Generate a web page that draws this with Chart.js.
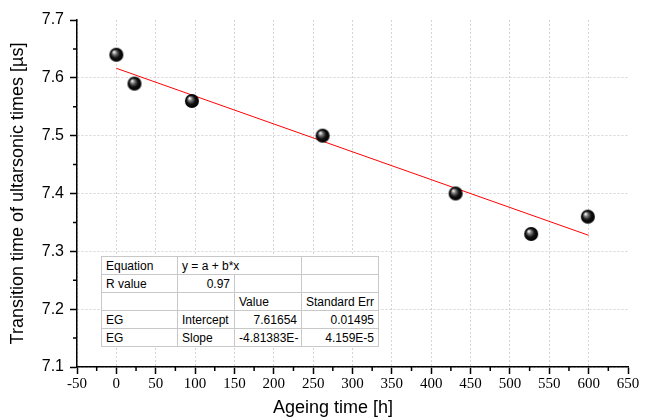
<!DOCTYPE html>
<html>
<head>
<meta charset="utf-8">
<script src="https://cdn.jsdelivr.net/npm/chart.js@4/dist/chart.umd.min.js"></script>
<style>
  html, body { margin: 0; padding: 0; background: #fff; }
  #wrap { position: relative; width: 654px; height: 419px; }
  #chart { position: absolute; left: 0; top: 0; }
  #fit {
    position: absolute; left: 101px; top: 256px; width: 277px;
    table-layout: fixed; border-collapse: collapse; background: #fff;
    font-family: "Liberation Sans", Arial, sans-serif; font-size: 12px; color: #000;
    border: 1px solid #555;
  }
  #fit td { border: 1px solid #c8c8c8; height: 17px; padding: 0 4px; white-space: nowrap; overflow: visible; }
  #fit td.r { text-align: right; }
</style>
</head>
<body>
<div id="wrap">
  <canvas id="chart" width="654" height="419"></canvas>
  <table id="fit">
    <colgroup><col style="width:76px"><col style="width:57px"><col style="width:67px"><col style="width:77px"></colgroup>
    <tr><td>Equation</td><td colspan="2">y = a + b*x</td><td></td></tr>
    <tr><td>R value</td><td class="r">0.97</td><td></td><td></td></tr>
    <tr><td></td><td></td><td>Value</td><td>Standard Err</td></tr>
    <tr><td>EG</td><td>Intercept</td><td class="r">7.61654</td><td class="r">0.01495</td></tr>
    <tr><td>EG</td><td>Slope</td><td class="r">-4.81383E-</td><td class="r">4.159E-5</td></tr>
  </table>
</div>
<script>
// measured points (ageing time h, transition time µs)
const ageHours = [0, 23, 96, 262, 431, 527, 599];
const transTime = [7.64, 7.59, 7.56, 7.50, 7.40, 7.33, 7.36];

const fitX = [0, 600];
const fitY = [7.6165, 7.3277];

const xTicks = [-50, 0, 50, 100, 150, 200, 250, 300, 350, 400, 450, 500, 550, 600, 650];
const yTicks = [7.1, 7.2, 7.3, 7.4, 7.5, 7.6, 7.7];

const xTitle = "Ageing time [h]";
const yTitle = "Transition time of ultarsonic times [µs]";

function makeBall(r) {
  const c = document.createElement("canvas");
  c.width = c.height = r * 2 + 2;
  const g = c.getContext("2d");
  const cx = r + 1, cy = r + 1;
  const grad = g.createRadialGradient(cx - r * 0.35, cy - r * 0.4, 0.5, cx, cy, r);
  grad.addColorStop(0, "#f4f4f4");
  grad.addColorStop(0.25, "#777");
  grad.addColorStop(0.6, "#111");
  grad.addColorStop(1, "#000");
  g.fillStyle = grad;
  g.beginPath();
  g.arc(cx, cy, r, 0, Math.PI * 2);
  g.fill();
  return c;
}

// small minor ticks + axis titles
const extras = {
  id: "extras",
  afterDraw(chart) {
    const ctx = chart.ctx;
    const xs = chart.scales.x, ys = chart.scales.y;
    ctx.save();
    ctx.strokeStyle = "#000";
    ctx.lineWidth = 1.5;
    ctx.beginPath();
    for (let i = 0; i < xTicks.length - 1; i++) {
      const px = xs.getPixelForValue((xTicks[i] + xTicks[i + 1]) / 2);
      ctx.moveTo(px, ys.bottom);
      ctx.lineTo(px, ys.bottom + 4);
    }
    for (let i = 0; i < yTicks.length - 1; i++) {
      const py = ys.getPixelForValue((yTicks[i] + yTicks[i + 1]) / 2);
      ctx.moveTo(xs.left, py);
      ctx.lineTo(xs.left - 4, py);
    }
    ctx.stroke();

    ctx.fillStyle = "#000";
    ctx.font = "18px 'Liberation Sans', Arial, sans-serif";
    ctx.textAlign = "center";
    ctx.textBaseline = "middle";
    ctx.fillText(xTitle, 333, 408);
    ctx.translate(18, (ys.top + ys.bottom) / 2);
    ctx.rotate(-Math.PI / 2);
    ctx.fillText(yTitle, 0, 0);
    ctx.restore();
  }
};

const gridCol = (edge) => ctx => (ctx.tick && ctx.tick.value === edge) ? "rgba(0,0,0,0)" : "#d4d4d4";

const canvas = document.getElementById("chart");

new Chart(canvas, {
  type: "scatter",
  data: {
    datasets: [
      {
        label: "data",
        data: ageHours.map((x, i) => ({ x, y: transTime[i] })),
        pointStyle: makeBall(7),
        pointRadius: 7,
        order: 1
      },
      {
        label: "fit",
        data: fitX.map((x, i) => ({ x, y: fitY[i] })),
        showLine: true,
        borderColor: "#ff0000",
        borderWidth: 1,
        pointRadius: 0,
        order: 2
      }
    ]
  },
  options: {
    responsive: false,
    animation: false,
    layout: { padding: { top: 20, right: 26, left: 0, bottom: 0 } },
    plugins: {
      legend: { display: false },
      tooltip: { enabled: false }
    },
    scales: {
      x: {
        type: "linear",
        min: -50,
        max: 650,
        afterBuildTicks: s => { s.ticks = xTicks.map(v => ({ value: v })); },
        afterFit: s => { s.height = 52; },
        grid: { color: gridCol(650), lineWidth: 1, tickColor: "#000", tickLength: 7, tickWidth: 1.5 },
        border: { color: "#000", width: 1.5, dash: [2, 2] },
        ticks: {
          color: "#000",
          padding: 1,
          maxRotation: 0,
          font: { family: "'Liberation Serif', 'Times New Roman', serif", size: 15 },
          callback: v => String(v)
        },
        title: { display: false }
      },
      y: {
        type: "linear",
        min: 7.1,
        max: 7.7,
        afterBuildTicks: s => { s.ticks = yTicks.map(v => ({ value: v })); },
        afterFit: s => { s.width = 77; },
        grid: { color: gridCol(7.7), lineWidth: 1, tickColor: "#000", tickLength: 7, tickWidth: 1.5 },
        border: { color: "#000", width: 1.5, dash: [2, 2] },
        ticks: {
          color: "#000",
          padding: 6,
          font: { family: "'Liberation Sans', Arial, sans-serif", size: 16 },
          callback: v => v.toFixed(1)
        },
        title: { display: false }
      }
    }
  },
  plugins: [extras]
});
</script>
</body>
</html>
